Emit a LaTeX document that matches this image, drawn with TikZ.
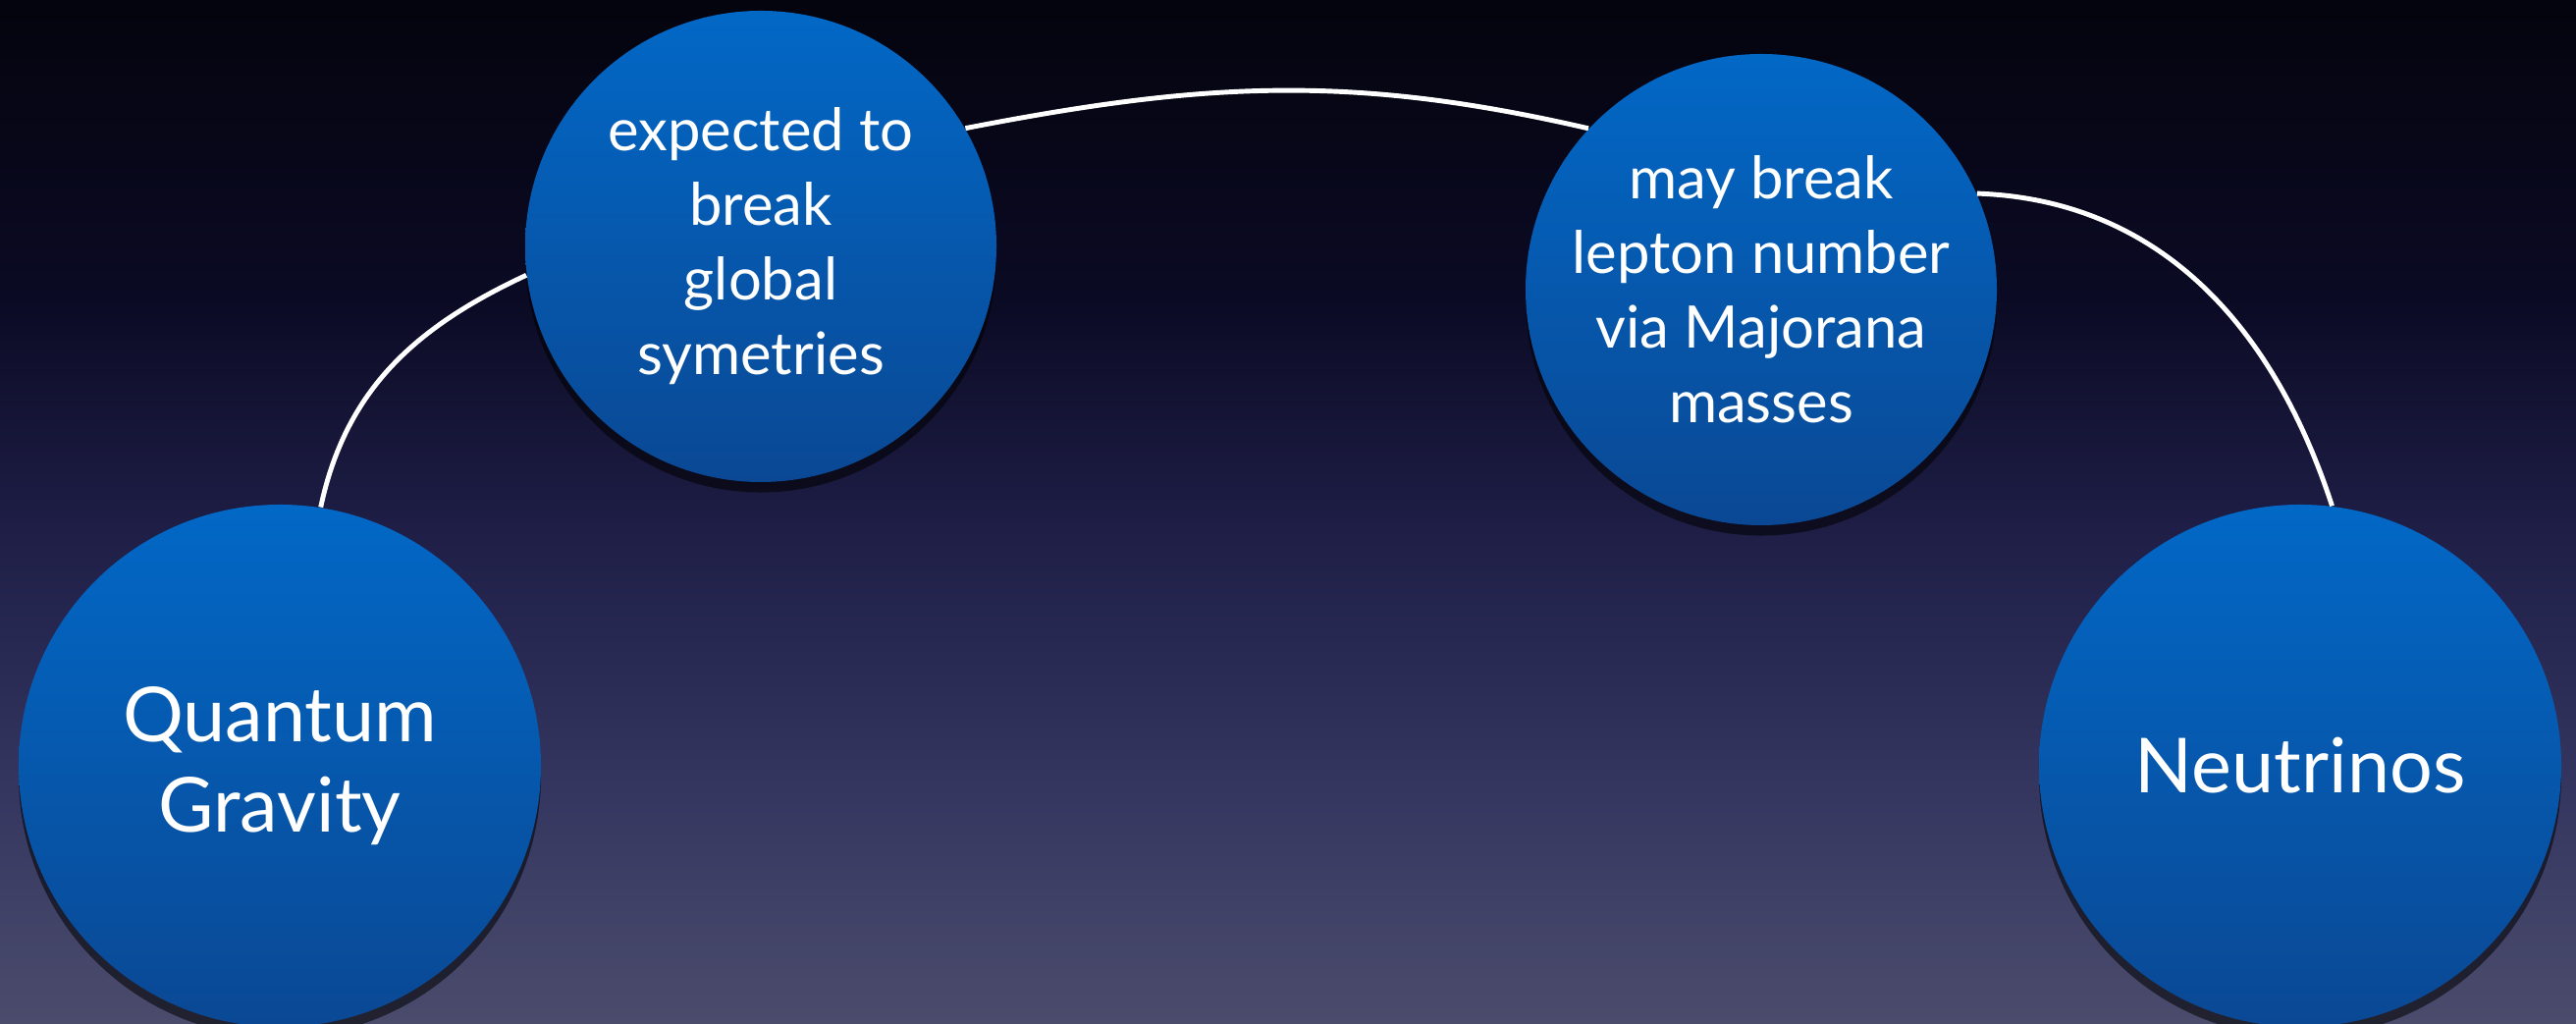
\documentclass[tikz,border=0pt]{standalone}
\usepackage{fontspec}
\setmainfont{Lato}
\usetikzlibrary{shadows}
\definecolor{bubtop}{RGB}{2,104,198}
\definecolor{bubbot}{RGB}{10,72,148}
\pgfdeclareverticalshading{sky}{100bp}{%
    color(0bp)=(rgb,255:red,75;green,76;blue,108);
    color(25bp)=(rgb,255:red,75;green,76;blue,108);
    color(36.6bp)=(rgb,255:red,52;green,54;blue,96);
    color(48.6bp)=(rgb,255:red,31;green,31;blue,72);
    color(60.6bp)=(rgb,255:red,11;green,10;blue,36);
    color(75bp)=(rgb,255:red,4;green,4;blue,14);
    color(100bp)=(rgb,255:red,4;green,4;blue,14)}
\begin{document}
\begin{tikzpicture}[
        bubble/.style={circle,
        draw=none,
        top color=bubtop,
        bottom color=bubbot,
        text=white,
        align=center,
        inner sep=0pt,
        drop shadow={shadow xshift=0pt, shadow yshift=-3pt, opacity=0.55, fill=black}},
        big/.style={bubble,
        minimum size=5.32cm,
        font=\fontsize{22}{26}\selectfont},
        small/.style={bubble,
        minimum size=4.80cm,
        font=\fontsize{17}{21.6}\selectfont},
        link/.style={draw=white, line width=1.4pt}]
    % background
    \shade[shading=sky] (0,0) rectangle (26.24,10.43);
    \useasboundingbox (0,0) rectangle (26.24,10.43);

        \node[big] (Q) at (2.85,2.63) {Quantum\\Gravity};
        \node[small] (E) at (7.75,7.92) {expected to\\break\\global\\symetries};
        \node[small] (M) at (17.94,7.48) {may break\\lepton number\\via Majorana\\masses};
        \node[big] (N) at (23.43,2.63) {Neutrinos};

        \draw [link] (Q.81) to [out=78, in=205] (E.187);
        \draw [link] (E.30) to [out=11, in=167] (M.137);
        \draw [link] (M.24) to [out=-2, in=108] (N.83);

    \end{tikzpicture}
\end{document}
